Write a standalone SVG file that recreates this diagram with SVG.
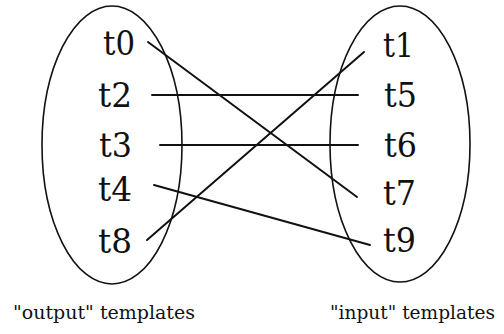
<svg xmlns="http://www.w3.org/2000/svg" width="504" height="334" viewBox="0 0 504 334">
<style>
.set{fill:none;stroke:#111;stroke-width:1.6}
.lbl{font-family:"DejaVu Serif","Liberation Serif",serif;font-size:33px;fill:#111}
.cap{font-family:"DejaVu Serif","Liberation Serif",serif;font-size:19px;fill:#111}
.conn line{stroke:#111;stroke-width:2;stroke-linecap:round}
</style>
<rect width="504" height="334" fill="#fff"/>
<g id="output-set">
<ellipse class="set" cx="112" cy="145" rx="70" ry="139"/>
</g>
<g id="input-set">
<ellipse class="set" cx="400" cy="144" rx="70" ry="138"/>
</g>
<g id="t0"><text class="lbl" x="103" y="55" textLength="32" lengthAdjust="spacingAndGlyphs">t0</text></g>
<g id="t2"><text class="lbl" x="98" y="107" textLength="34" lengthAdjust="spacingAndGlyphs">t2</text></g>
<g id="t3"><text class="lbl" x="99" y="157" textLength="33" lengthAdjust="spacingAndGlyphs">t3</text></g>
<g id="t4"><text class="lbl" x="98" y="201" textLength="34" lengthAdjust="spacingAndGlyphs">t4</text></g>
<g id="t8"><text class="lbl" x="98" y="253" textLength="34" lengthAdjust="spacingAndGlyphs">t8</text></g>
<g id="t1"><text class="lbl" x="383" y="57" textLength="31" lengthAdjust="spacingAndGlyphs">t1</text></g>
<g id="t5"><text class="lbl" x="384" y="107" textLength="33" lengthAdjust="spacingAndGlyphs">t5</text></g>
<g id="t6"><text class="lbl" x="384" y="157" textLength="33" lengthAdjust="spacingAndGlyphs">t6</text></g>
<g id="t7"><text class="lbl" x="383" y="205" textLength="33" lengthAdjust="spacingAndGlyphs">t7</text></g>
<g id="t9"><text class="lbl" x="383" y="252" textLength="33" lengthAdjust="spacingAndGlyphs">t9</text></g>
<g class="conn" id="connectors">
<line x1="148" y1="42" x2="357" y2="197"/>
<line x1="152" y1="95" x2="358" y2="95"/>
<line x1="160" y1="145" x2="358" y2="145"/>
<line x1="154" y1="185" x2="370" y2="245"/>
<line x1="147" y1="240" x2="364" y2="52"/>
</g>
<text class="cap" x="13" y="319" textLength="182" lengthAdjust="spacingAndGlyphs">"output" templates</text>
<text class="cap" x="330" y="319" textLength="165" lengthAdjust="spacingAndGlyphs">"input" templates</text>
</svg>
